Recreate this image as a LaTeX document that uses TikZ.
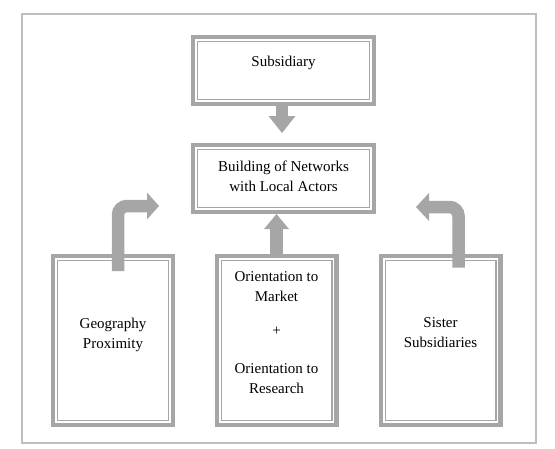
\documentclass[tikz,border=0pt]{standalone}
\usepackage{fontspec}
\setmainfont{Liberation Serif}
\definecolor{FrameGray}{RGB}{190,190,190}
\definecolor{BoxGray}{RGB}{166,166,166}
\usepackage{tikz}
\usetikzlibrary{arrows.meta, positioning, calc}

\begin{document}
\begin{tikzpicture}[x=1pt, y=-1pt,
    dbox/.style={draw=BoxGray, line width=4.3pt, fill=white, inner sep=0pt,
      path picture={\draw[BoxGray, line width=1.3pt]
        ([shift={(4.5pt,-4.5pt)}]path picture bounding box.north west) rectangle
        ([shift={(-4.5pt,4.5pt)}]path picture bounding box.south east);}},
    topbox/.style={dbox, minimum width=180.7pt, minimum height=66.7pt},
    tallbox/.style={dbox, minimum width=119.7pt, minimum height=168.7pt},
    lbl/.style={font=\fontsize{15}{20}\selectfont, align=center, inner sep=0pt},
    arr/.style={draw=BoxGray, line width=12.5pt},
    bigtip/.style 2 args={-{Triangle[width=#1, length=#2, line width=0pt]}}]
  \useasboundingbox (0,0) rectangle (555,448);
  \draw[FrameGray, line width=1.2pt] (22,14) rectangle (536,443);

  % boxes
  \node[topbox] (sub) at (283.5,70.5) {};
  \node[topbox] (net) at (283.5,178.5) {};
  \node[tallbox] (geo) at (113,340.5) {};
  \node[tallbox] (ori) at (276.5,340.5) {};
  \node[tallbox] (sis) at (440.5,340.5) {};

  % texts
  \node[lbl] (subT) at (283.5,63.2) {Subsidiary};
  \node[lbl] (netT) at (283.5,176) {Building of Networks\\with Local Actors};
  \node[lbl] (geoT) at (113,334.5) {Geography\\Proximity};
  \node[lbl] (oriT) at (276.5,332.2) {Orientation to\\Market\\[14pt]+\\[18pt]Orientation to\\Research};
  \node[lbl] (sisT) at (440.5,333) {Sister\\Subsidiaries};

  % arrows
  \coordinate (geoEnd) at (159,206);
  \coordinate (sisEnd) at (416,207);
  \draw[arr, bigtip={27pt}{17pt}, shorten >=10pt] ([xshift=-1.5pt]sub.south) -- ([xshift=-1.5pt]net.north);
  \draw[arr, bigtip={25pt}{15pt}] (ori.north) -- (ori.north |- net.south);
  \draw[arr, rounded corners=9pt, bigtip={27pt}{12pt}] ([xshift=5pt,yshift=-17pt]geo.north) |- (geoEnd);
  \draw[arr, rounded corners=9pt, bigtip={28pt}{13pt}] ([xshift=18pt,yshift=-13.5pt]sis.north) |- (sisEnd);
\end{tikzpicture}
\end{document}
